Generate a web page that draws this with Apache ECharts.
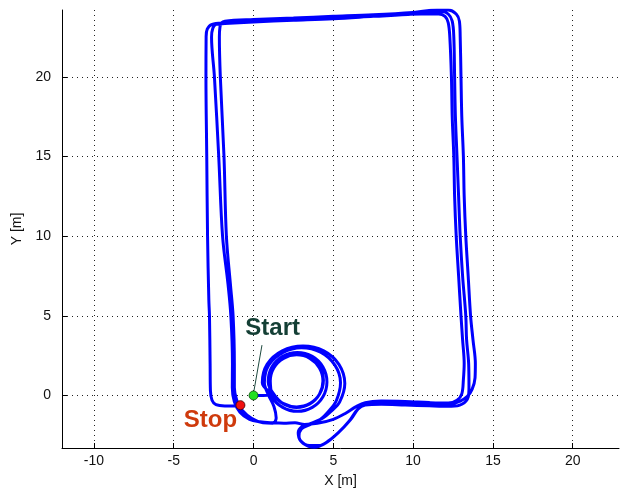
<!DOCTYPE html>
<html>
<head>
<meta charset="utf-8">
<script src="https://cdn.jsdelivr.net/npm/echarts@6/dist/echarts.min.js"></script>
<style>
html,body{margin:0;padding:0;background:#fff;}
#chart{width:621px;height:493px;}
</style>
</head>
<body>
<div id="chart"></div>
<script>
// ---- axis ticks ----
const xTicks = [-10, -5, 0, 5, 10, 15, 20];
const yTicks = [0, 5, 10, 15, 20];

// ---- trajectory segments [x, y] in metres ----
const startLoops = [
  [0,0],[0.6,0.0],[1.1,0.15],
  [1.05,0.9],[1.27,1.73],[1.88,2.33],[2.7,2.55],[3.53,2.33],[4.13,1.73],[4.35,0.9],[4.13,0.08],[3.53,-0.53],[2.7,-0.75],[1.88,-0.53],[1.27,0.08],
  [0.92,0.85],[1.15,1.78],[1.83,2.45],[2.75,2.7],[3.68,2.45],[4.35,1.78],[4.6,0.85],[4.35,-0.08],[3.68,-0.75],[2.75,-1.0],[1.83,-0.75],[1.15,-0.08],
  [0.98,0.95],[1.2,1.82],[1.82,2.4],[2.68,2.62],[3.52,2.4],[4.15,1.8],[4.38,0.95],[4.15,0.1],[3.55,-0.5],[2.7,-0.72],[1.85,-0.5],[1.2,0.05],
  [0.55,0.8],[0.85,1.95],[1.8,2.8],[3.1,3.1],[4.4,2.8],[5.35,1.95],[5.72,0.75],[5.4,-0.4],[4.85,-1.0],[4.3,-1.45],[3.6,-1.75],[3.05,-1.95],
  [2.8,-2.35],[2.95,-2.85],[3.5,-3.15],[4.1,-3.15],[4.7,-2.85],[5.4,-2.25],[6.1,-1.5],[6.55,-0.85],[7.0,-0.5]
];
const lap1 = [
  [8.0,-0.42],[9.5,-0.45],[11.0,-0.52],[12.3,-0.55],[12.95,-0.35],
  [13.4,-0.05],[13.7,0.4],[13.88,1.1],[13.9,2.0],[13.75,3.5],[13.6,5.0],[13.45,7.5],[13.3,10.0],[13.2,12.5],[13.15,15.0],[13.05,17.5],[13.0,20.0],[12.95,22.5],[12.9,23.5],[12.7,23.95],[12.2,24.2],
  [11.5,24.2],[10.0,24.05],[7.5,23.9],[5.0,23.8],[2.5,23.7],[0.0,23.6],[-1.8,23.5],[-2.0,23.4],
  [-2.1,23.15],[-2.14,22.5],[-2.08,20.0],[-1.85,15.0],[-1.7,10.0],[-1.45,7.0],[-1.28,5.0],[-1.2,2.0],[-1.2,0.5],[-1.05,-0.3],[-0.7,-0.95],[-0.1,-1.45],[0.6,-1.72],[1.2,-1.75],[1.42,-1.42],[1.28,-0.7],[0.95,0.0],
  [0.68,0.8],[0.95,1.9],[1.85,2.7],[3.0,3.0],[4.2,2.72],[5.1,1.9],[5.45,0.8],[5.2,-0.3],[4.75,-0.95],
  [4.2,-1.5],[3.5,-1.85],[3.0,-2.1],[2.85,-2.55],[3.1,-3.0],[3.8,-3.25],[4.5,-3.0],[5.3,-2.35],[6.0,-1.6],[6.5,-0.9],[7.0,-0.6]
];
const lap2 = [
  [8.0,-0.55],[9.5,-0.6],[11.0,-0.65],[12.4,-0.68],[13.05,-0.55],
  [13.45,-0.1],[13.5,0.5],[13.48,2.0],[13.35,3.5],[13.3,5.0],[13.1,7.5],[12.95,10.0],[12.85,12.5],[12.75,15.0],[12.65,17.5],[12.6,20.0],[12.55,22.5],[12.45,23.5],[12.2,23.95],[11.8,24.1],
  [11.0,24.1],[10.0,23.95],[7.5,23.8],[5.0,23.65],[2.5,23.55],[0.0,23.45],[-1.8,23.35],[-2.35,23.3],
  [-2.55,23.05],[-2.63,22.5],[-2.45,20.0],[-2.18,15.0],[-1.94,10.0],[-1.6,7.0],[-1.42,5.0],[-1.32,2.0],[-1.33,0.5],[-1.2,-0.4],[-0.85,-1.05],[-0.25,-1.5],[0.4,-1.65],[1.2,-1.72],[1.9,-1.75],[2.6,-1.72],[3.2,-1.82],
  [4.0,-1.75],[5.0,-1.5],[5.8,-1.1],[6.4,-0.72],[7.0,-0.45]
];
const lap3 = [
  [8.0,-0.35],[9.5,-0.38],[11.0,-0.45],[12.2,-0.48],[12.75,-0.3],
  [13.05,0.1],[13.15,1.0],[13.2,2.0],[13.1,3.5],[13.0,5.0],[12.85,7.5],[12.7,10.0],[12.6,12.5],[12.55,15.0],[12.45,17.5],[12.4,20.0],[12.3,22.5],[12.2,23.4],[12.0,23.8],[11.6,23.95],
  [10.5,23.95],[8.0,23.85],[5.0,23.7],[2.5,23.6],[0.0,23.5],[-1.8,23.4],[-2.6,23.3],
  [-2.9,23.0],[-2.97,22.5],[-2.98,20.0],[-2.93,15.0],[-2.88,10.0],[-2.8,6.0],[-2.76,5.0],[-2.72,2.0],[-2.7,0.3],[-2.6,-0.3],[-2.35,-0.58],[-1.8,-0.66],[-1.25,-0.66],[-0.82,-0.61]
];

// ---- annotations ----
const startPoint = [0, 0];
const stopPoint = [-0.82, -0.61];
const startLeader = [[0.53, 3.16], [0.03, 0.3]];
const startLabelPos = [1.2, 4.24];
const stopLabelPos = [-2.7, -1.58];

const track = startLoops.concat(lap1, lap2, lap3);

const chart = echarts.init(document.getElementById('chart'));
const axisFont = {fontFamily: 'Liberation Sans, Arial, sans-serif', fontSize: 14, color: '#111'};

chart.setOption({
  backgroundColor: '#ffffff',
  animation: false,
  grid: {left: 62, right: 2, top: 10, bottom: 43, containLabel: false},
  xAxis: {
    type: 'value', min: -12, max: 22.9,
    name: 'X [m]', nameLocation: 'middle', nameGap: 26,
    nameTextStyle: axisFont,
    axisLine: {show: true, onZero: false, lineStyle: {color: '#000', width: 1}},
    axisTick: {show: true, inside: true, length: 5, customValues: xTicks, lineStyle: {color: '#000'}},
    axisLabel: {customValues: xTicks, margin: 6, ...axisFont},
    splitLine: {show: true, lineStyle: {color: '#222', width: 1, type: [1, 4]}}
  },
  yAxis: {
    type: 'value', min: -3.3, max: 24.2,
    name: 'Y [m]', nameLocation: 'middle', nameGap: 37,
    nameTextStyle: axisFont,
    axisLine: {show: true, onZero: false, lineStyle: {color: '#000', width: 1}},
    axisTick: {show: true, inside: true, length: 5, customValues: yTicks, lineStyle: {color: '#000'}},
    axisLabel: {customValues: yTicks, margin: 11, ...axisFont},
    splitLine: {show: true, lineStyle: {color: '#222', width: 1, type: [1, 4]}}
  },
  series: [
    {
      type: 'line', data: track, showSymbol: false, smooth: 0.35,
      lineStyle: {color: '#0000ff', width: 3}, z: 3, clip: true
    },
    {
      type: 'line', data: startLeader, showSymbol: false,
      lineStyle: {color: '#1f4a40', width: 1}, z: 4
    },
    {
      type: 'scatter', data: [startPoint], symbolSize: 9, z: 5,
      itemStyle: {color: '#22e022', borderColor: '#0a4a0a', borderWidth: 0.8, opacity: 1}
    },
    {
      type: 'scatter', data: [stopPoint], symbolSize: 9, z: 5,
      itemStyle: {color: '#f01010', borderColor: '#400000', borderWidth: 0.8, opacity: 1}
    },
    {
      type: 'scatter', data: [startLabelPos], symbolSize: 0, z: 6, silent: true,
      itemStyle: {opacity: 1},
      label: {show: true, position: 'inside', formatter: 'Start', fontFamily: 'Liberation Sans, Arial, sans-serif',
        fontSize: 24, fontWeight: 'bold', color: '#143f35', opacity: 1}
    },
    {
      type: 'scatter', data: [stopLabelPos], symbolSize: 0, z: 6, silent: true,
      itemStyle: {opacity: 1},
      label: {show: true, position: 'inside', formatter: 'Stop', fontFamily: 'Liberation Sans, Arial, sans-serif',
        fontSize: 24, fontWeight: 'bold', color: '#cf3a0c', opacity: 1}
    }
  ]
});
</script>
</body>
</html>
